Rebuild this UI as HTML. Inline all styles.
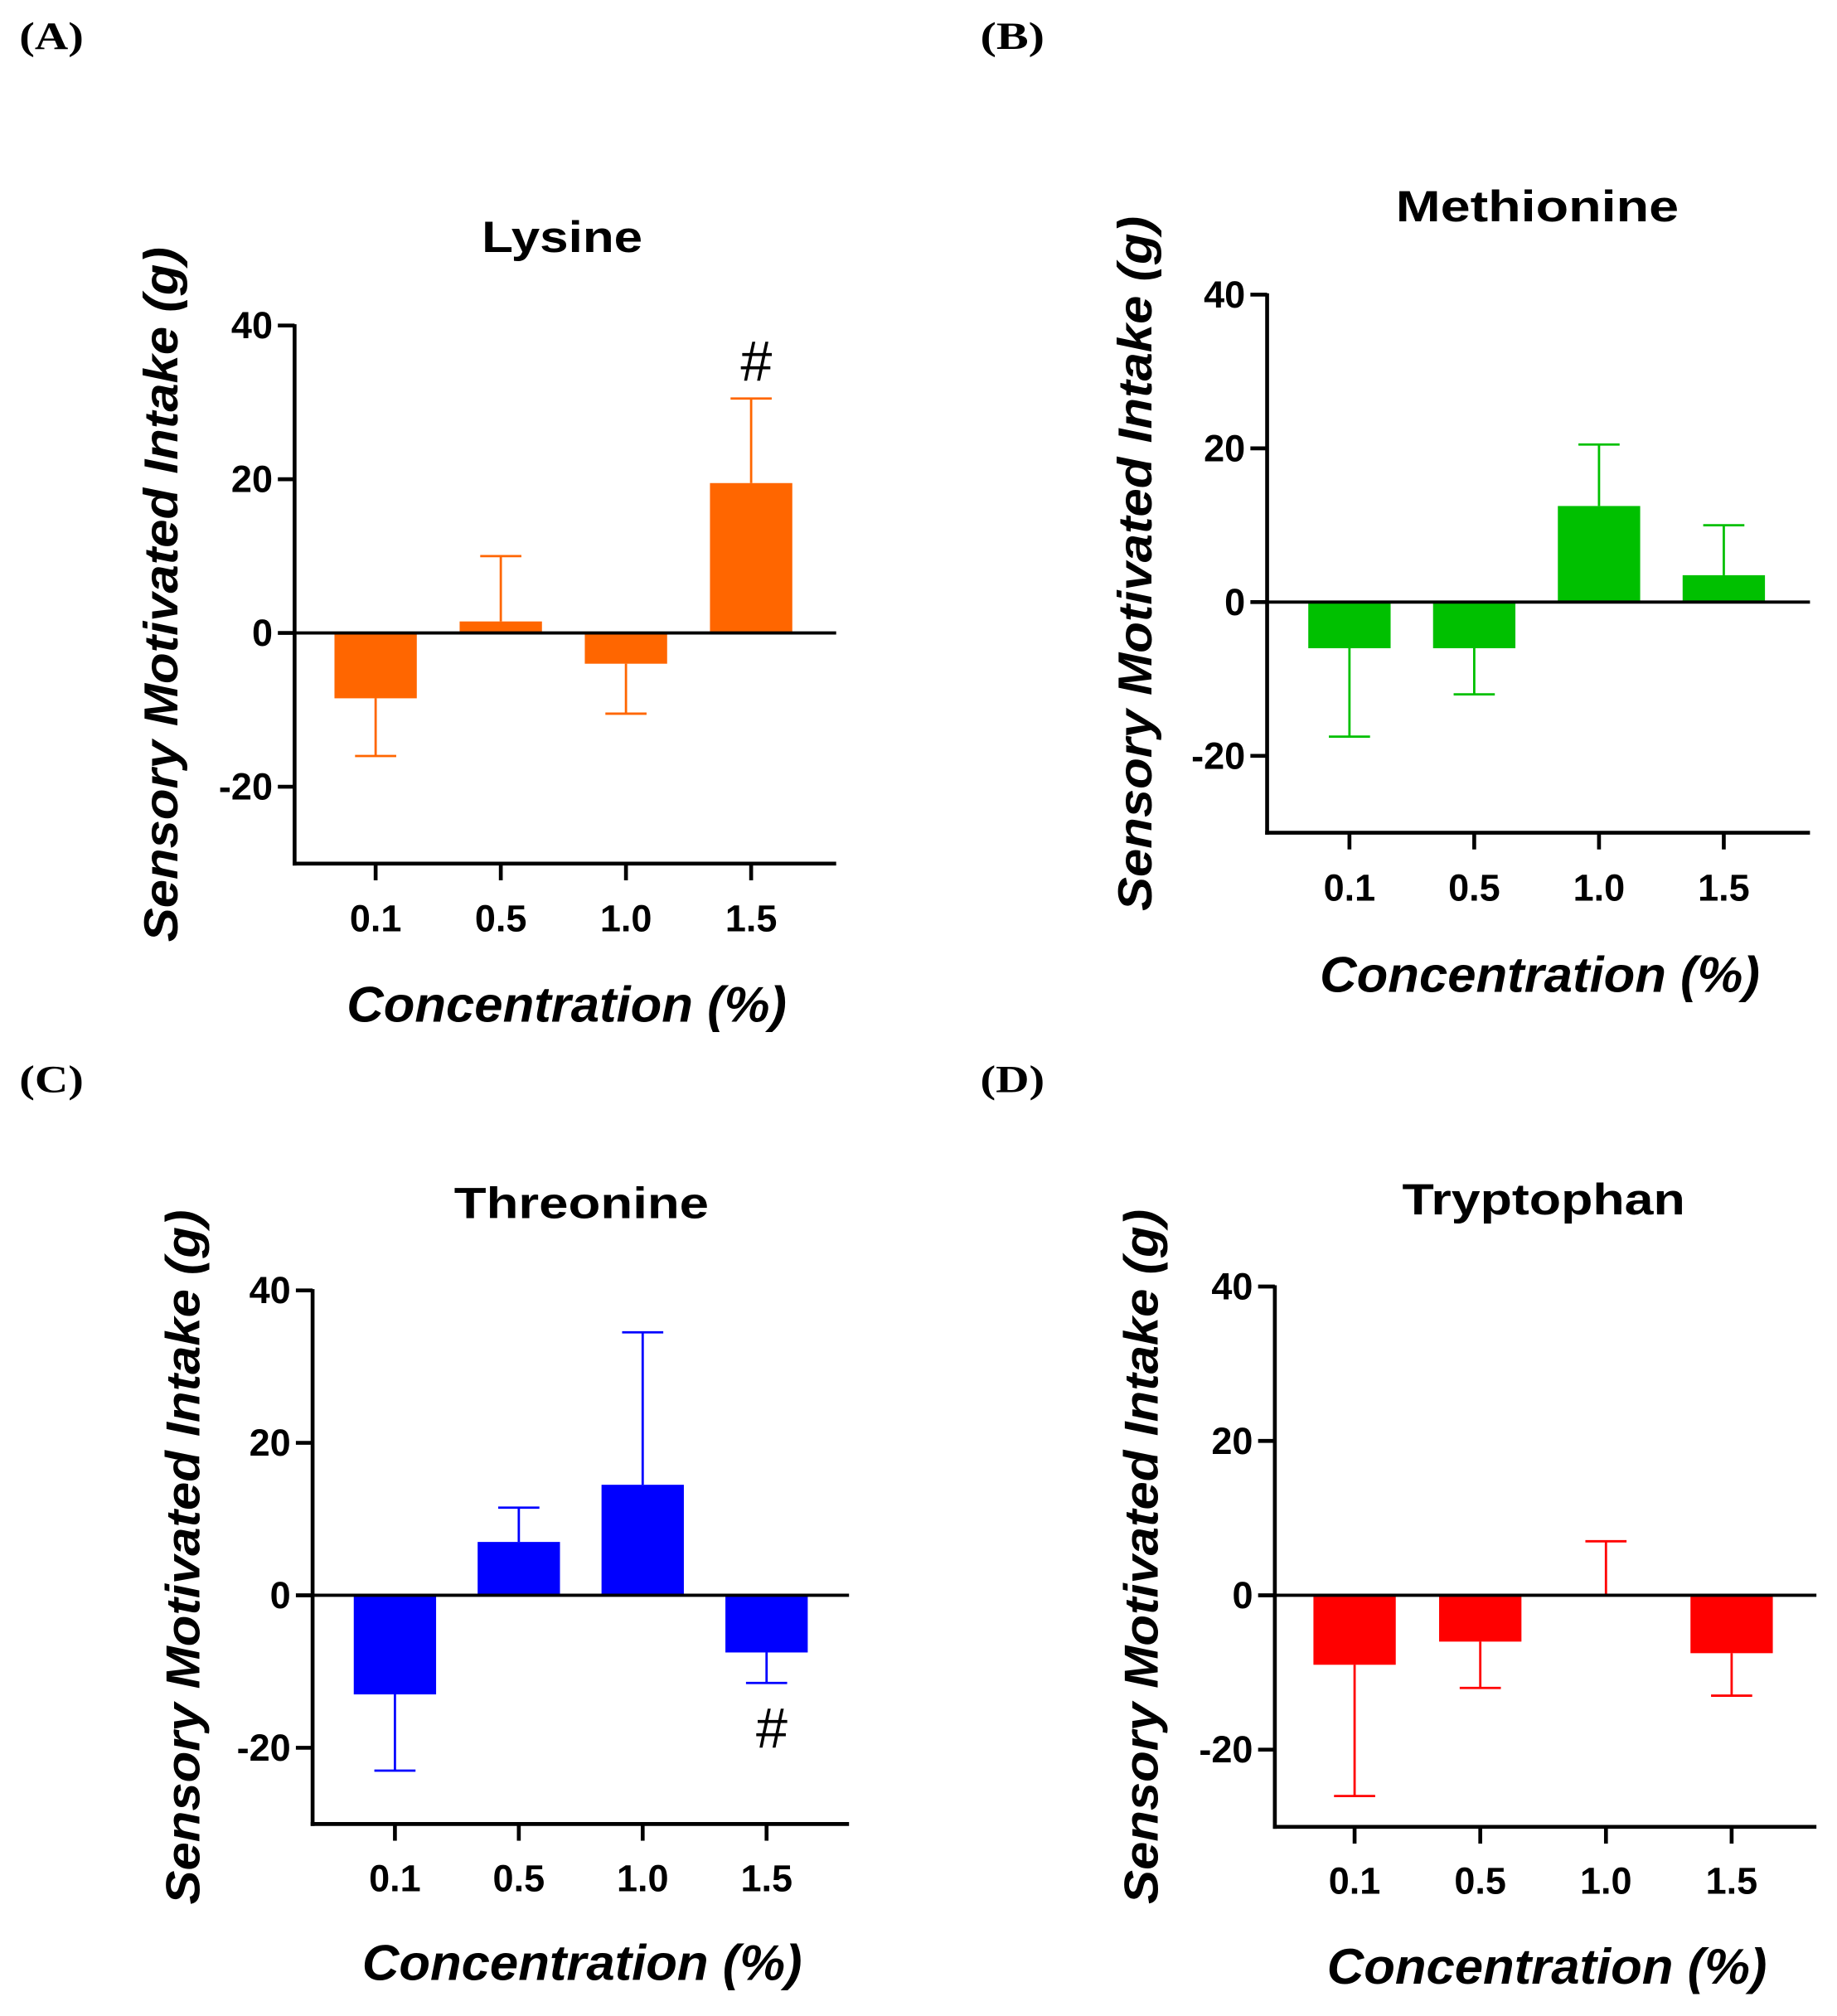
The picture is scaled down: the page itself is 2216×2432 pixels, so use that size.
<!DOCTYPE html>
<html><head><meta charset="utf-8"><style>
html,body{margin:0;padding:0;background:#fff;}
svg{display:block;font-family:"Liberation Sans",Arial,sans-serif;}
</style></head><body>
<svg id="fig" width="2216" height="2432" viewBox="0 0 1428 1567" preserveAspectRatio="none" xmlns="http://www.w3.org/2000/svg"></svg>
<script>
const categories = ["0.1","0.5","1.0","1.5"];
const yTicks = [40,20,0,-20];
const lysineValues = [-8.5, 1.5, -4, 19.5];
const lysineErrors = [-16, 10, -10.5, 30.5];
const methionineValues = [-6, -6, 12.5, 3.5];
const methionineErrors = [-17.5, -12, 20.5, 10];
const threonineValues = [-13, 7, 14.5, -7.5];
const threonineErrors = [-23, 11.5, 34.5, -11.5];
const tryptophanValues = [-9, -6, 0, -7.5];
const tryptophanErrors = [-26, -12, 7, -13];

const panels = [
 {letter:"(A)",lx:15,ly:27,title:"Lysine",tl:125,color:"#FF6600",vals:lysineValues,errs:lysineErrors,ax:229,y40:253,y0:492,xEnd:650,cx0:292,step:97.3,tx:437,ty:184,ylx:125,xly:780,tickY:713,hash:3,hashBelow:false},
 {letter:"(B)",lx:762,ly:27,title:"Methionine",tl:220,color:"#00C000",vals:methionineValues,errs:methionineErrors,ax:985,y40:229,y0:468,xEnd:1407,cx0:1049,step:97,tx:1195,ty:160,ylx:882,xly:757,tickY:689,hash:-1},
 {letter:"(C)",lx:15,ly:838,title:"Threonine",tl:198,color:"#0000FF",vals:threonineValues,errs:threonineErrors,ax:243,y40:1003,y0:1240,xEnd:660,cx0:307,step:96.3,tx:452,ty:935,ylx:142,xly:1525,tickY:1459,hash:3,hashBelow:true},
 {letter:"(D)",lx:762,ly:838,title:"Tryptophan",tl:220,color:"#FF0000",vals:tryptophanValues,errs:tryptophanErrors,ax:991,y40:1000,y0:1240,xEnd:1412,cx0:1053,step:97.7,tx:1200,ty:932,ylx:887,xly:1528,tickY:1461,hash:-1}
];
const NS="http://www.w3.org/2000/svg";
const svg=document.getElementById('fig');
function mk(tag,attrs,parent,text){const e=document.createElementNS(NS,tag);for(const k in attrs)e.setAttribute(k,attrs[k]);if(text!==undefined)e.textContent=text;(parent||svg).appendChild(e);return e;}

panels.forEach((p,pi)=>{
 const g=mk('g',{});
 
 
 const yS=v=>p.y0-(p.y40-p.y0)/40*-v;
 const xS=i=>p.cx0+i*p.step;
 const yBottom=yS(-30);
 const L=mk('text',{x:p.lx,y:p.ly+11,'font-family':'Liberation Serif, serif','font-weight':'bold','font-size':30,textLength:50,lengthAdjust:'spacingAndGlyphs'},g,p.letter);
 
 
 const T=mk('text',{x:p.tx,y:p.ty+12,'text-anchor':'middle','font-weight':'bold','font-size':34,textLength:p.tl,lengthAdjust:'spacingAndGlyphs'},g,p.title);
 
 
 p.vals.forEach((v,i)=>{
  const cx=xS(i), e=p.errs[i];
  const ln=mk('line',{x1:cx,x2:cx,y1:yS(v),y2:yS(e),stroke:p.color,'stroke-width':1.8},g);
  
  
  const cap=mk('line',{x1:cx-16,x2:cx+16,y1:yS(e),y2:yS(e),stroke:p.color,'stroke-width':1.8},g);
  
  
  const top=Math.min(yS(v),p.y0), h=Math.abs(yS(v)-p.y0);
  const r=mk('rect',{x:cx-32,y:top,width:64,height:h,fill:p.color},g);
  
  
 });
 const z=mk('line',{x1:p.ax,x2:p.xEnd,y1:p.y0,y2:p.y0,stroke:'#000','stroke-width':2.5},g);
 
 
 const ya=mk('line',{x1:p.ax,x2:p.ax,y1:p.y40-1,y2:yBottom+1.5,stroke:'#000','stroke-width':3},g);
 
 
 const xa=mk('line',{x1:p.ax-1.5,x2:p.xEnd,y1:yBottom,y2:yBottom,stroke:'#000','stroke-width':3},g);
 
 
 yTicks.forEach(t=>{
  const tk=mk('line',{x1:p.ax-13,x2:p.ax,y1:yS(t),y2:yS(t),stroke:'#000','stroke-width':3},g);
  
  
  const tl=mk('text',{x:p.ax-17,y:yS(t)+10,'text-anchor':'end','font-weight':'bold','font-size':29},g,String(t));
  
  
 });
 categories.forEach((c,i)=>{
  const tk=mk('line',{x1:xS(i),x2:xS(i),y1:yBottom,y2:yBottom+13,stroke:'#000','stroke-width':3},g);
  
  
  const tl=mk('text',{x:xS(i),y:p.tickY+11,'text-anchor':'middle','font-weight':'bold','font-size':29},g,c);
  
  
 });
 const yl=mk('text',{x:0,y:0,transform:`translate(${p.ylx+13},${(p.y40+yBottom)/2}) rotate(-90)`,'text-anchor':'middle','font-weight':'bold','font-style':'italic','font-size':37,textLength:540,lengthAdjust:'spacingAndGlyphs'},g,'Sensory Motivated Intake (g)');
 
 
 const xl=mk('text',{x:(p.ax+p.xEnd)/2+1,y:p.xly+14,'text-anchor':'middle','font-weight':'bold','font-style':'italic','font-size':39,textLength:342,lengthAdjust:'spacingAndGlyphs'},g,'Concentration (%)');
 
 
 if(p.hash>=0){
  const i=p.hash;
  const hy=p.hashBelow?yS(p.errs[i])+50:yS(p.errs[i])-14;
  const h=mk('text',{x:xS(i)+4,y:hy,'text-anchor':'middle','font-size':44,'font-family':'Liberation Sans, sans-serif'},g,'#');
  
  
 }
});
</script>
</body></html>
